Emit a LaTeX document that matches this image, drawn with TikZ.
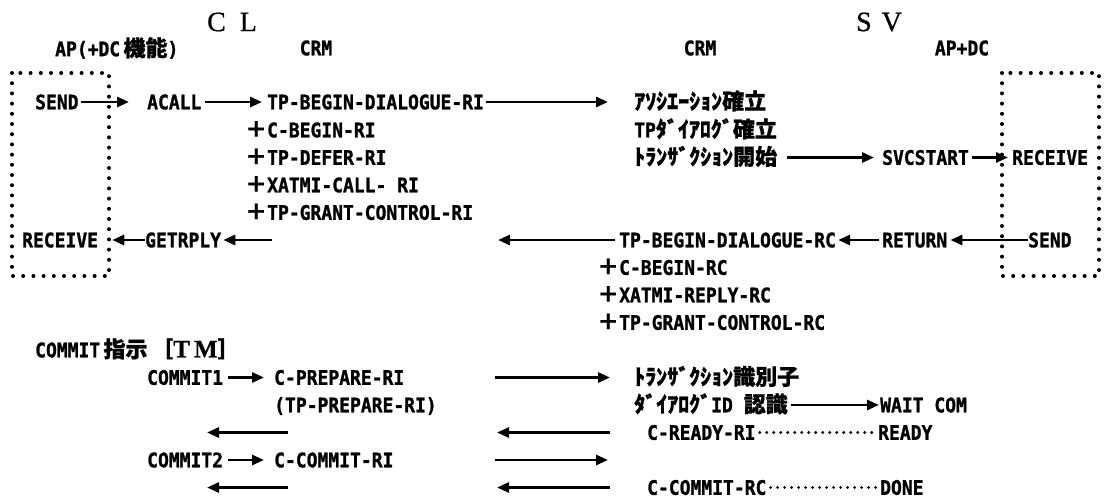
\documentclass[tikz,border=0pt]{standalone}
\usepackage{fontspec}
\usetikzlibrary{arrows.meta}
\newfontfamily\monof{DejaVu Sans Mono}[FakeStretch=0.9,FakeBold=1.2]
\newfontfamily\jpf{Noto Sans CJK JP}[FakeBold=0.8]
\newfontfamily\serf{Liberation Serif}[FakeBold=0.6]
\newcommand\jtext[1]{{\jpf\bfseries\fontsize{22}{22}\selectfont #1}}
\newcommand\pl{\llap{\jtext{＋}}}
\begin{document}
\begin{tikzpicture}[x=1pt,y=-1pt,
  txt/.style={inner sep=0pt, text height=14.6pt, text depth=0pt, anchor=west, font=\monof\bfseries\fontsize{20}{22}\selectfont},
  hdr/.style={inner sep=0pt, anchor=center, font=\monof\bfseries\fontsize{20}{22}\selectfont},
  big/.style={inner sep=0pt, anchor=center, font=\serf\fontsize{28}{28}\selectfont},
  arr/.style={line width=2.8pt, -{Triangle[length=12pt,width=10pt]}},
  dotbox/.style={line width=4pt, line cap=round, dash pattern=on 0pt off 10.2pt},
  leader/.style={line width=3.2pt, line cap=round, dash pattern=on 0pt off 7pt, shorten <=4pt, shorten >=4pt}]
\fill[white] (0,0) rectangle (1106,499);
\useasboundingbox (0,0) rectangle (1106,499);
% rows
\def\ra{102}\def\rb{130}\def\rc{157.5}\def\rd{185}\def\re{212.5}
\def\rf{240}\def\rg{267.5}\def\rh{295}\def\ri{322.5}\def\rj{350}
\def\rk{377.5}\def\rl{405}\def\rm{432.5}\def\rn{460}\def\ro{487.5}
% headers
\node[big] (cl) at (232,22) {C\hspace{14pt}L};
\node[big] (sv) at (879,22) {S\hspace{10pt}V};
\node[hdr, anchor=west] (apdc1) at (55,48) {AP(+DC\,\jtext{機能})};
\node[hdr] (crm1) at (316,48) {CRM};
\node[hdr] (crm2) at (700,48) {CRM};
\node[hdr] (apdc2) at (962,48) {AP+DC};
% dotted boxes
\draw[dotbox] (12,73) rectangle (109,276);
\draw[dotbox] (1002,73) rectangle (1099,276);
% row 1
\node[txt] (send1) at (35,\ra) {SEND};
\node[txt] (acall) at (147,\ra) {ACALL};
\node[txt] (tpbri) at (267,\ra) {TP-BEGIN-DIALOGUE-RI};
\node[txt] (jp1) at (634,\ra) {\jtext{ｱｿｼｴｰｼｮﾝ確立}};
\draw[arr] ([xshift=2pt]send1.east) -- ([xshift=-18pt]acall.west);
\draw[arr] ([xshift=3pt]acall.east) -- ([xshift=-5pt]tpbri.west);
\draw[arr] ([xshift=2pt]tpbri.east) -- ([xshift=-26pt]jp1.west);
% row 2-5
\node[txt] (cbri) at (267,\rb) {\pl C-BEGIN-RI};
\node[txt] (jp2) at (634,\rb) {TP\jtext{ﾀﾞｲｱﾛｸﾞ確立}};
\node[txt] (tpdefer) at (267,\rc) {\pl TP-DEFER-RI};
\node[txt] (jp3) at (634,\rc) {\jtext{ﾄﾗﾝｻﾞｸｼｮﾝ開始}};
\node[txt] (svcstart) at (882,\rc) {SVCSTART};
\node[txt] (receive2) at (1012,\rc) {RECEIVE};
\draw[arr] ([xshift=10pt]jp3.east) -- ([xshift=-8pt]svcstart.west);
\draw[arr] ([xshift=3pt]svcstart.east) -- ([xshift=-4pt]receive2.west);
\node[txt] (xatmi) at (267,\rd) {\pl XATMI-CALL- RI};
\node[txt] (tpgrant) at (267,\re) {\pl TP-GRANT-CONTROL-RI};
% row 6
\node[txt] (receive1) at (22,\rf) {RECEIVE};
\node[txt] (getrply) at (145,\rf) {GETRPLY};
\coordinate (g6) at (272,\rf);
\draw[arr] (getrply.west) -- ([xshift=14pt]receive1.east);
\draw[arr] (g6) -- ([xshift=2pt]getrply.east);
\node[txt] (tpbrc) at (619,\rf) {TP-BEGIN-DIALOGUE-RC};
\coordinate (m6h) at (498,\rf);
\draw[arr] ([xshift=-4pt]tpbrc.west) -- (m6h);
\node[txt] (return) at (882,\rf) {RETURN};
\draw[arr] ([xshift=-3pt]return.west) -- ([xshift=2pt]tpbrc.east);
\node[txt] (send2) at (1028,\rf) {SEND};
\draw[arr] (send2.west) -- ([xshift=3pt]return.east);
% rows 7-9
\node[txt] (cbrc) at (619,\rg) {\pl C-BEGIN-RC};
\node[txt] (xrrc) at (619,\rh) {\pl XATMI-REPLY-RC};
\node[txt] (tpgrc) at (619,\ri) {\pl TP-GRANT-CONTROL-RC};
% row 10
\node[txt] (cinst) at (35,\rj) {COMMIT\,\jtext{指示\,［}{\serf\fontsize{25}{25}\selectfont T\,M}\jtext{］}};
% row 11
\node[txt] (commit1) at (147,\rk) {COMMIT1};
\node[txt] (cprep) at (274,\rk) {C-PREPARE-RI};
\node[txt] (jp11) at (634,\rk) {\jtext{ﾄﾗﾝｻﾞｸｼｮﾝ識別子}};
\draw[arr] ([xshift=5pt]commit1.east) -- ([xshift=-10pt]cprep.west);
\coordinate (t11) at (495,\rk);
\draw[arr] (t11) -- ([xshift=-24pt]jp11.west);
% row 12
\node[txt] (tpprep) at (274,\rl) {(TP-PREPARE-RI)};
\node[txt] (jp12) at (634,\rl) {\jtext{ﾀﾞｲｱﾛｸﾞ}ID \jtext{認識}};
\node[txt] (waitcom) at (880,\rl) {WAIT COM};
\draw[arr] ([xshift=3pt]jp12.east) -- ([xshift=-1pt]waitcom.west);
% row 13
\coordinate (a13t) at (288,\rm);
\coordinate (a13h) at (207,\rm);
\draw[arr] (a13t) -- (a13h);
\node[txt] (cready) at (647,\rm) {C-READY-RI};
\coordinate (m13h) at (497,\rm);
\draw[arr] ([xshift=-37pt]cready.west) -- (m13h);
\node[txt] (ready) at (878,\rm) {READY};
\draw[leader] (cready.east) -- (ready.west);
% row 14
\node[txt] (commit2) at (147,\rn) {COMMIT2};
\node[txt] (ccommit) at (274,\rn) {C-COMMIT-RI};
\draw[arr] ([xshift=5pt]commit2.east) -- ([xshift=-10pt]ccommit.west);
\coordinate (t14) at (495,\rn);
\coordinate (h14) at (608,\rn);
\draw[arr] (t14) -- (h14);
% row 15
\coordinate (a15t) at (288,\ro);
\coordinate (a15h) at (207,\ro);
\draw[arr] (a15t) -- (a15h);
\node[txt] (ccrc) at (647,\ro) {C-COMMIT-RC};
\coordinate (m15h) at (497,\ro);
\draw[arr] ([xshift=-37pt]ccrc.west) -- (m15h);
\node[txt] (done) at (880,\ro) {DONE};
\draw[leader] (ccrc.east) -- (done.west);
\end{tikzpicture}
\end{document}
